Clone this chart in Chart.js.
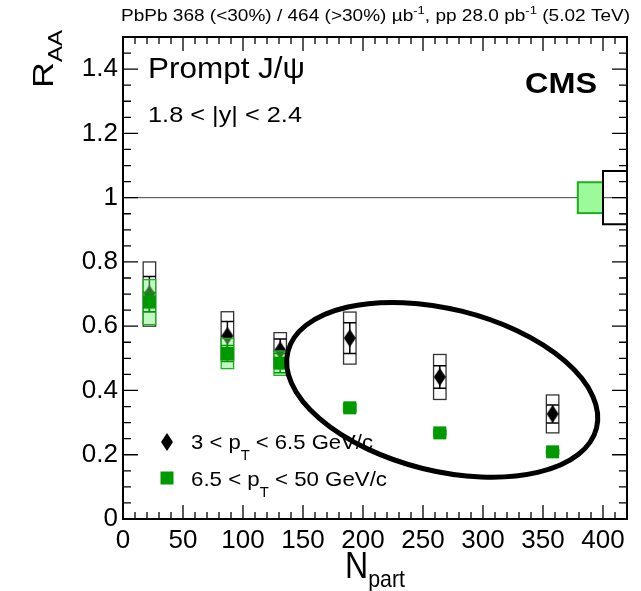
<!DOCTYPE html>
<html>
<head>
<meta charset="utf-8">
<script src="https://cdn.jsdelivr.net/npm/chart.js@4.4.1/dist/chart.umd.min.js"></script>
<style>
  body { margin: 0; background: #fff; }
  canvas { display: block; }
</style>
</head>
<body>
<canvas id="raa" width="641" height="591"></canvas>
<script>
// centrality bins (N_part) and measured R_AA
const nPart = [22, 87, 131, 189, 264, 358];

const raaLowPt = [0.70, 0.57, 0.525, 0.563, 0.442, 0.327];
const statLowPt = [0.055, 0.045, 0.035, 0.048, 0.035, 0.028];
const systLowPt = [0.10, 0.075, 0.055, 0.081, 0.07, 0.059];

const raaHighPt = [0.675, 0.515, 0.485, 0.346, 0.268, 0.209];
const statHighPt = [0.03, 0.025, 0.03, 0.012, 0.008, 0.007];
const systHighPt = [0.07, 0.047, 0.038, 0.013, 0.009, 0.007];

// global uncertainties drawn at R_AA = 1 : [low pT, high pT]
const globalUnc = [0.083, 0.048];

const xTicks = [0, 50, 100, 150, 200, 250, 300, 350, 400];
const yTicks = [0, 0.2, 0.4, 0.6, 0.8, 1, 1.2, 1.4];

const FONT = '"Liberation Sans", Arial, Helvetica, sans-serif';
const GREEN = "#009a00";

function diamond(w, h) {
  const c = document.createElement("canvas");
  c.width = w; c.height = h;
  const g = c.getContext("2d");
  g.fillStyle = "#000";
  g.beginPath();
  g.moveTo(w / 2, 0); g.lineTo(w, h / 2); g.lineTo(w / 2, h); g.lineTo(0, h / 2);
  g.closePath(); g.fill();
  return c;
}
const diamondImg = diamond(12, 18);

// text with sub/superscripts: segs = [text, size, dy, weight]
function rich(ctx, segs, x, y, opt) {
  opt = opt || {};
  let w = 0;
  segs.forEach(s => {
    ctx.font = (s[3] || "normal") + " " + s[1] + "px " + FONT;
    s.w = ctx.measureText(s[0]).width;
    w += s.w;
  });
  const sx = opt.width ? opt.width / w : 1;
  ctx.save();
  ctx.translate(x, y);
  if (opt.rotate) ctx.rotate(opt.rotate);
  let start = 0;
  if (opt.align === "right") start = -w * sx;
  if (opt.align === "center") start = -w * sx / 2;
  ctx.translate(start, 0);
  ctx.scale(sx, 1);
  ctx.fillStyle = "#000";
  ctx.textBaseline = "alphabetic";
  ctx.textAlign = "left";
  let cx = 0;
  segs.forEach(s => {
    ctx.font = (s[3] || "normal") + " " + s[1] + "px " + FONT;
    ctx.fillText(s[0], cx, s[2] || 0);
    cx += s.w;
  });
  ctx.restore();
}

function drawSeries(ctx, xs, ys, stat, syst, opt) {
  const sx = ctx.chart.scales.x, sy = ctx.chart.scales.y;
  const c = ctx.ctx;
  xs.forEach((n, i) => {
    const x0 = sx.getPixelForValue(n - 5.2), x1 = sx.getPixelForValue(n + 5.2);
    const xm = sx.getPixelForValue(n);
    const yHi = sy.getPixelForValue(ys[i] + syst[i]), yLo = sy.getPixelForValue(ys[i] - syst[i]);
    const sHi = sy.getPixelForValue(ys[i] + stat[i]), sLo = sy.getPixelForValue(ys[i] - stat[i]);
    if (opt.fill) { c.fillStyle = opt.fill; c.fillRect(x0, yHi, x1 - x0, yLo - yHi); }
    c.strokeStyle = opt.stroke; c.lineWidth = opt.lw;
    c.strokeRect(x0, yHi, x1 - x0, yLo - yHi);
    c.beginPath();
    c.moveTo(x0, sHi); c.lineTo(x1, sHi);
    c.moveTo(x0, sLo); c.lineTo(x1, sLo);
    c.moveTo(xm, sHi); c.lineTo(xm, sLo);
    c.strokeStyle = opt.bar; c.lineWidth = 1.5;
    c.stroke();
  });
}

const decor = {
  id: "decor",
  beforeDatasetsDraw(chart) {
    const c = chart.ctx, a = chart.chartArea;
    const sx = chart.scales.x, sy = chart.scales.y;
    // line at unity
    c.save();
    c.strokeStyle = "#444"; c.lineWidth = 1;
    c.beginPath();
    c.moveTo(a.left, sy.getPixelForValue(1)); c.lineTo(a.right, sy.getPixelForValue(1));
    c.stroke();
    // global uncertainty boxes
    let x0 = sx.getPixelForValue(379), x1 = sx.getPixelForValue(400);
    let yt = sy.getPixelForValue(1 + globalUnc[1]), yb = sy.getPixelForValue(1 - globalUnc[1]);
    c.fillStyle = "#9dfa9a"; c.fillRect(x0, yt, x1 - x0, yb - yt);
    c.strokeStyle = "#1fae1f"; c.lineWidth = 2; c.strokeRect(x0, yt, x1 - x0, yb - yt);
    x0 = sx.getPixelForValue(400); x1 = sx.getPixelForValue(420);
    yt = sy.getPixelForValue(1 + globalUnc[0]); yb = sy.getPixelForValue(1 - globalUnc[0]);
    c.strokeStyle = "#000"; c.lineWidth = 2;
    c.beginPath();
    c.moveTo(x1, yt); c.lineTo(x0, yt); c.lineTo(x0, yb); c.lineTo(x1, yb);
    c.stroke();
    c.restore();
  },
  beforeDatasetDraw(chart, args) {
    const c = chart.ctx;
    c.save();
    if (args.index === 1) {
      drawSeries({ chart, ctx: c }, nPart, raaLowPt, statLowPt, systLowPt,
        { stroke: "#333", lw: 1.3, bar: "#000" });
    } else {
      drawSeries({ chart, ctx: c }, nPart, raaHighPt, statHighPt, systHighPt,
        { stroke: "#22b022", fill: "rgba(120,240,120,0.45)", lw: 1.3, bar: GREEN });
    }
    c.restore();
  },
  afterDatasetsDraw(chart) {
    const c = chart.ctx, a = chart.chartArea;
    const sx = chart.scales.x, sy = chart.scales.y;
    c.save();
    // highlight ellipse
    c.beginPath();
    c.ellipse(sx.getPixelForValue(266), sy.getPixelForValue(0.402), 159, 81, 13.9 * Math.PI / 180, 0, 2 * Math.PI);
    c.strokeStyle = "#000"; c.lineWidth = 5; c.stroke();

    // frame and inward ticks
    c.strokeStyle = "#000"; c.lineWidth = 2;
    c.strokeRect(a.left, a.top, a.right - a.left, a.bottom - a.top);
    c.lineWidth = 1.3;
    c.beginPath();
    for (let v = 0; v <= 420; v += 10) {
      const x = sx.getPixelForValue(v);
      const len = v % 50 === 0 ? 14 : 7;
      c.moveTo(x, a.bottom); c.lineTo(x, a.bottom - len);
      c.moveTo(x, a.top); c.lineTo(x, a.top + len);
    }
    for (let k = 0; k <= 30; k++) {
      const y = sy.getPixelForValue(k * 0.05);
      const len = k % 4 === 0 ? 15 : 8;
      c.moveTo(a.left, y); c.lineTo(a.left + len, y);
      c.moveTo(a.right, y); c.lineTo(a.right - len, y);
    }
    c.stroke();
    c.restore();

    // texts
    rich(c, [["PbPb 368 (<30%) / 464 (>30%) ", 16], ["\u00b5b", 16], ["-1", 11, -7], [", pp 28.0 pb", 16], ["-1", 11, -7], [" (5.02 TeV)", 16]],
      121, 21, { width: 509 });
    rich(c, [["Prompt J/\u03c8", 29]], 148, 78, { width: 157 });
    rich(c, [["1.8 < |y| < 2.4", 22]], 148, 122, { width: 154 });
    rich(c, [["CMS", 29, 0, "bold"]], 597, 93, { align: "right", width: 72 });
    rich(c, [["R", 30], ["AA", 20, 9]], 53, 30, { rotate: -Math.PI / 2, align: "right", width: 58 });
    rich(c, [["N", 36], ["part", 24, 9]], 375, 578, { align: "center", width: 60 });

    // legend
    c.drawImage(diamondImg, 167 - 6, 442 - 9);
    c.fillStyle = GREEN; c.fillRect(167 - 6.5, 478 - 6.5, 13, 13);
    rich(c, [["3 < p", 21], ["T", 14, 11], [" < 6.5 GeV/c", 21]], 191, 449, { width: 182 });
    rich(c, [["6.5 < p", 21], ["T", 14, 11], [" < 50 GeV/c", 21]], 191, 486, { width: 196 });
  }
};

new Chart(document.getElementById("raa"), {
  type: "scatter",
  data: {
    datasets: [
      {
        label: "6.5 < pT < 50 GeV/c",
        data: nPart.map((n, i) => ({ x: n, y: raaHighPt[i] })),
        pointStyle: "rect",
        pointRadius: 9.2,
        backgroundColor: GREEN,
        borderWidth: 0,
        showLine: false
      },
      {
        label: "3 < pT < 6.5 GeV/c",
        data: nPart.map((n, i) => ({ x: n, y: raaLowPt[i] })),
        pointStyle: diamondImg,
        showLine: false
      }
    ]
  },
  options: {
    responsive: false,
    animation: false,
    events: [],
    devicePixelRatio: 1,
    layout: { padding: { top: 37, right: 14, left: 0, bottom: 0 } },
    plugins: {
      legend: { display: false },
      tooltip: { enabled: false }
    },
    scales: {
      x: {
        type: "linear",
        min: 0,
        max: 420,
        afterBuildTicks: s => { s.ticks = xTicks.map(v => ({ value: v })); },
        afterFit: s => { s.height = 72; },
        grid: { display: false, drawTicks: false },
        border: { display: false },
        ticks: {
          color: "#000",
          padding: 6,
          maxRotation: 0,
          font: { family: FONT, size: 26 },
          callback: v => String(v)
        }
      },
      y: {
        min: 0,
        max: 1.5,
        afterBuildTicks: s => { s.ticks = yTicks.map(v => ({ value: v })); },
        afterFit: s => { s.width = 123; },
        grid: { display: false, drawTicks: false },
        border: { display: false },
        ticks: {
          color: "#000",
          padding: 5,
          font: { family: FONT, size: 26 },
          callback: v => String(+v.toFixed(2))
        }
      }
    }
  },
  plugins: [decor]
});
</script>
</body>
</html>
